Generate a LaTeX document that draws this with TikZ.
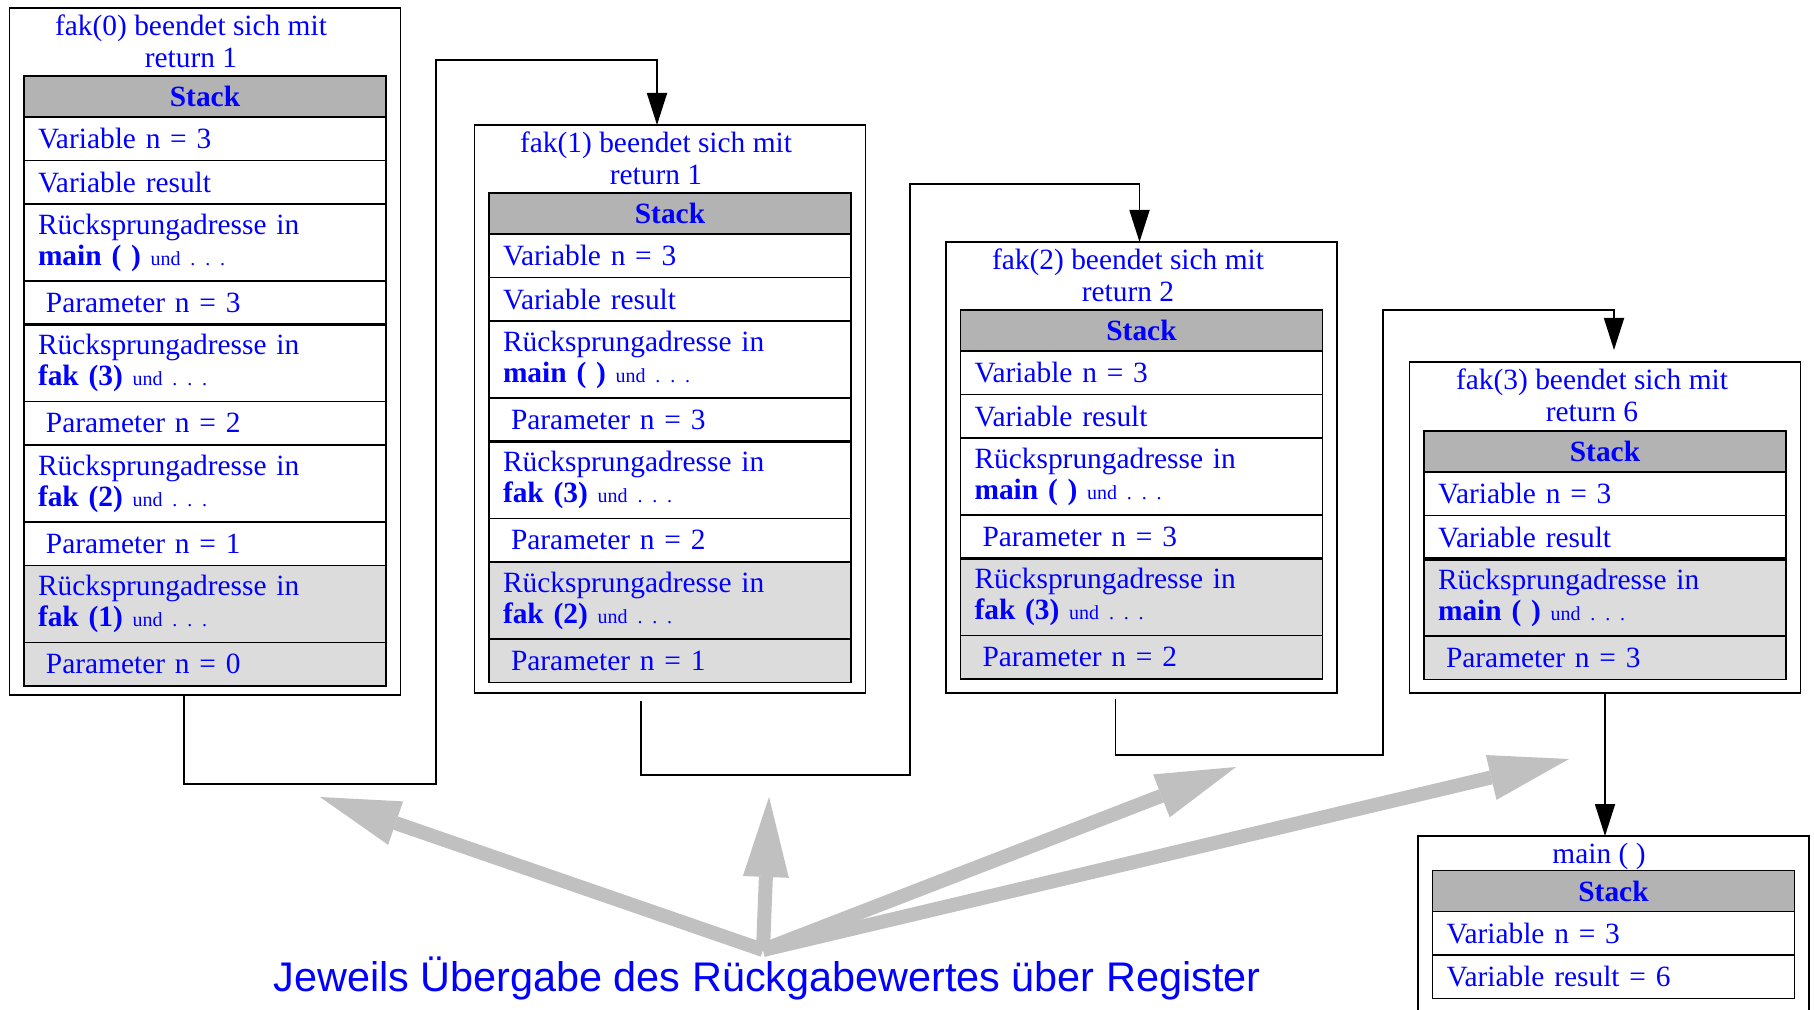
\documentclass[tikz,border=0pt]{standalone}
\usepackage{fontspec}
\setmainfont{Liberation Serif}
\newfontfamily\notefont{Liberation Sans}
\usetikzlibrary{positioning,arrows.meta}

\definecolor{stackgray}{RGB}{179,179,179}
\definecolor{oldgray}{RGB}{220,220,220}
\definecolor{arrowgray}{RGB}{192,192,192}

\newcommand{\cellfont}{\fontsize{14.7}{15.5}\selectfont\spaceskip=0.19em\relax}
\newcommand{\rsa}[1]{Rücksprungadresse in\\\textbf{#1} {\fontsize{10}{10}\selectfont und .~.~.}}

\tikzset{
  frame/.style={draw, rectangle, line width=0.9pt, minimum width=195.5pt, outer sep=0pt},
  title/.style={align=center, text=blue, inner sep=0pt, font=\fontsize{14.7}{16}\selectfont},
  stackhead/.style={draw, rectangle, line width=0.9pt, fill=stackgray, minimum width=181pt, minimum height=20.5pt, inner sep=0pt, outer sep=0pt, text=blue, font=\fontsize{14.7}{16}\selectfont\bfseries},
  cell/.style={draw, rectangle, line width=0.9pt, text width=167pt, inner xsep=7pt, inner ysep=2pt, minimum height=21.75pt, outer sep=0pt, align=left, text=blue, font=\cellfont},
  cell2/.style={cell, minimum height=38.5pt},
  old/.style={fill=oldgray},
  param/.style={execute at begin node=\hspace*{4pt}},
  cut/.style={line width=1.8pt},
  flow/.style={line width=0.9pt, -{Triangle[length=16pt,width=10pt]}},
  regarrow/.style={draw=arrowgray, line width=7pt, -{Triangle[length=40pt,width=23pt,line width=0pt]}},
  note/.style={text=blue, font=\notefont\fontsize{20.7}{24}\selectfont}
}

\begin{document}
\begin{tikzpicture}[x=0.5pt,y=-0.5pt]
  \clip (0,0) rectangle (1814,1010);

  % fak(0)
  \node[frame, minimum height=343.5pt] (f0) at (205,351.5) {};
  \node[title] (t0) at (191,41) {fak(0) beendet sich mit\\return 1};
  \node[stackhead] (s0) at (205,96.5) {Stack};
  \node[cell, below=0pt of s0] (a0) {Variable n = 3};
  \node[cell, below=0pt of a0] (b0) {Variable result};
  \node[cell2, below=0pt of b0] (c0) {\rsa{main ( )}};
  \node[cell, param, below=0pt of c0] (d0) {Parameter n = 3};
  \node[cell2, below=0pt of d0] (e0) {\rsa{fak (3)}};
  \node[cell, param, below=0pt of e0] (g0) {Parameter n = 2};
  \node[cell2, below=0pt of g0] (h0) {\rsa{fak (2)}};
  \node[cell, param, below=0pt of h0] (i0) {Parameter n = 1};
  \node[cell2, old, below=0pt of i0] (j0) {\rsa{fak (1)}};
  \node[cell, old, param, below=0pt of j0] (k0) {Parameter n = 0};
  \draw[cut] (d0.south west) -- (d0.south east);

  % fak(1)
  \node[frame, minimum height=284pt] (f1) at (670,409) {};
  \node[title] (t1) at (656,158) {fak(1) beendet sich mit\\return 1};
  \node[stackhead] (s1) at (670,213.5) {Stack};
  \node[cell, below=0pt of s1] (a1) {Variable n = 3};
  \node[cell, below=0pt of a1] (b1) {Variable result};
  \node[cell2, below=0pt of b1] (c1) {\rsa{main ( )}};
  \node[cell, param, below=0pt of c1] (d1) {Parameter n = 3};
  \node[cell2, below=0pt of d1] (e1) {\rsa{fak (3)}};
  \node[cell, param, below=0pt of e1] (g1) {Parameter n = 2};
  \node[cell2, old, below=0pt of g1] (h1) {\rsa{fak (2)}};
  \node[cell, old, param, below=0pt of h1] (i1) {Parameter n = 1};
  \draw[cut] (d1.south west) -- (d1.south east);

  % fak(2)
  \node[frame, minimum height=225.5pt] (f2) at (1141.5,467.5) {};
  \node[title] (t2) at (1128,275) {fak(2) beendet sich mit\\return 2};
  \node[stackhead] (s2) at (1141.5,330.5) {Stack};
  \node[cell, below=0pt of s2] (a2) {Variable n = 3};
  \node[cell, below=0pt of a2] (b2) {Variable result};
  \node[cell2, below=0pt of b2] (c2) {\rsa{main ( )}};
  \node[cell, param, below=0pt of c2] (d2) {Parameter n = 3};
  \node[cell2, old, below=0pt of d2] (e2) {\rsa{fak (3)}};
  \node[cell, old, param, below=0pt of e2] (g2) {Parameter n = 2};
  \draw[cut] (d2.south west) -- (d2.south east);

  % fak(3)
  \node[frame, minimum height=165.5pt] (f3) at (1605,527.5) {};
  \node[title] (t3) at (1592,395) {fak(3) beendet sich mit\\return 6};
  \node[stackhead] (s3) at (1605,451.5) {Stack};
  \node[cell, below=0pt of s3] (a3) {Variable n = 3};
  \node[cell, below=0pt of a3] (b3) {Variable result};
  \node[cell2, old, below=0pt of b3] (c3) {\rsa{main ( )}};
  \node[cell, old, param, below=0pt of c3] (d3) {Parameter n = 3};
  \draw[cut] (b3.south west) -- (b3.south east);

  % main
  \node[frame, minimum height=92pt] (fm) at (1613.5,928) {};
  \node[title, anchor=base] (tm) at (1599,863) {main ( )};
  \node[stackhead] (sm) at (1613.5,891) {Stack};
  \node[cell, below=0pt of sm] (am) {Variable n = 3};
  \node[cell, below=0pt of am] (bm) {Variable result = 6};

  \draw[flow] ([xshift=-10.5pt]f0.south) -- ++(0,89) -| (436,60) -| ([xshift=-6.5pt]f1.north);
  \draw[flow] ([xshift=-14.5pt,yshift=-4pt]f1.south) -- ++(0,74) -| (910,184) -| ([xshift=-1pt]f2.north);
  \draw[flow, shorten >=6pt] ([xshift=-13pt,yshift=-3pt]f2.south) -- ++(0,56) -| (1383,310) -| ([xshift=4.5pt]f3.north);
  \draw[flow] (f3.south) -- (f3.south |- fm.north);

  \node[note, anchor=base] (note) at (767,991) {Jeweils Übergabe des Rückgabewertes über Register};
  \coordinate (hub) at (763,950);
  \coordinate (r0) at (320,797);
  \coordinate (r1) at (769,797);
  \coordinate (r2) at (1236,767);
  \coordinate (r3) at (1569,759);
  \draw[regarrow] (hub) -- (r0);
  \draw[regarrow] (hub) -- (r1);
  \draw[regarrow] (hub) -- (r2);
  \draw[regarrow] (hub) -- (r3);
\end{tikzpicture}
\end{document}
